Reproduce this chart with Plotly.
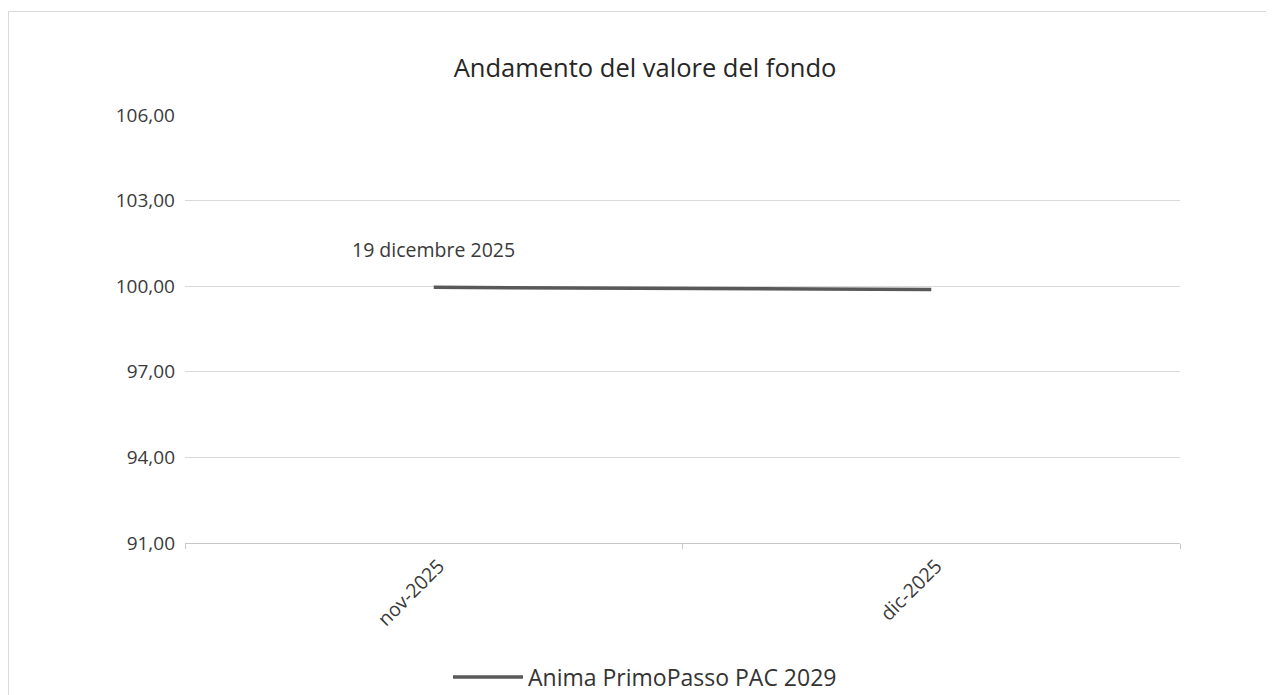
import plotly.graph_objects as go

categories = ["nov-2025", "dic-2025"]
values = [99.96, 99.88]
series_name = "Anima PrimoPasso PAC 2029"
y_ticks = [91, 94, 97, 100, 103, 106]
annotation_text = "19 dicembre 2025"
annotation_value = 101.3

# page is offset by 8px body margin
OFF = 8
W, H = 1274, 695
L, R, T, B = 185 - OFF, W - (1180 - OFF), 115 - OFF, H - (543 - OFF)
pw, ph = W - L - R, H - T - B

def px_x(p):
    return (p - OFF - L) / pw

def px_y(p):
    return (H - B - (p - OFF)) / ph

FONT = "Open Sans"
TXT = "#3a3a3a"

fig = go.Figure()
fig.add_trace(go.Scatter(
    x=categories, y=values, mode="lines", name=series_name,
    line=dict(color="#595959", width=3.5),
))

fig.add_annotation(
    x=categories[0], y=annotation_value, text=annotation_text,
    showarrow=False, font=dict(family=FONT, size=19.5, color=TXT),
    xanchor="center", yanchor="middle",
)

fig.add_shape(type="rect", xref="paper", yref="paper",
              x0=(0.5 - L) / pw, x1=(1300 - L) / pw,
              y0=(H - B - 3.5) / ph, y1=(H - B - 720) / ph,
              line=dict(color="#d9d9d9", width=1), layer="below")

fig.update_layout(
    width=W, height=H,
    margin=dict(l=L, r=R, t=T, b=B, autoexpand=False),
    paper_bgcolor="white", plot_bgcolor="white",
    separators=",.",
    font=dict(family=FONT, size=19, color=TXT),
    title=dict(text="Andamento del valore del fondo", x=(645 - OFF) / W,
               xref="container", y=1 - (68 - OFF) / H, yref="container",
               xanchor="center", yanchor="middle",
               font=dict(family=FONT, size=25.5, color="#262626")),
    showlegend=True,
    legend=dict(orientation="h", x=px_x(645), y=px_y(677), xanchor="center", yanchor="middle",
                font=dict(family=FONT, size=23, color="#333333"),
                itemwidth=70, bgcolor="rgba(0,0,0,0)"),
    xaxis=dict(type="category", range=[-0.5, 1.5], tickson="boundaries",
               showgrid=False, showline=True, linecolor="#c8c8c8", linewidth=1,
               ticks="outside", ticklen=5, tickcolor="#c8c8c8",
               tickangle=-45, tickfont=dict(size=19.5, color=TXT),
               ticklabelshift=5, ticklabelstandoff=3,
               fixedrange=True),
    yaxis=dict(range=[91, 106], tickvals=y_ticks, tickformat=".2f",
               showgrid=True, gridcolor="#d9d9d9", gridwidth=1,
               zeroline=False, showline=False, ticks="", ticklen=0,
               ticklabelstandoff=9,
               tickfont=dict(size=19, color=TXT), fixedrange=True),
)

fig.write_html("out.html")
